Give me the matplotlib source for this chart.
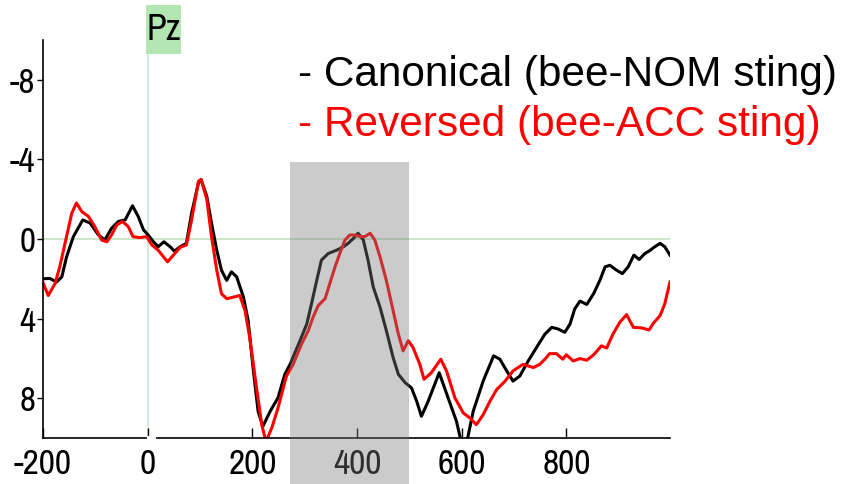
import matplotlib
matplotlib.use("Agg")
from matplotlib import pyplot as plt
from matplotlib.patches import Rectangle

plt.rcParams['axes.unicode_minus'] = False

# ERP at Pz, time in ms, amplitude in microvolts (negative plotted up)
canon_ms = [-200, -187, -174, -164, -155, -142, -124, -110, -94, -82, -69, -56, -43, -29, -18, -8,
            1, 11, 20, 31, 43, 51, 62, 74, 84, 97, 102, 113, 122, 132, 141, 151, 160, 170, 183,
            192, 202, 211, 220, 234, 249, 262, 272, 291, 304, 313, 323, 332, 345, 361, 374, 383,
            393, 402, 412, 421, 431, 444, 456, 469, 479, 492, 504, 514, 523, 536, 557, 574, 590,
            600, 609, 622, 641, 661, 673, 686, 698, 711, 727, 743, 759, 772, 784, 797, 807, 816,
            826, 839, 852, 864, 874, 883, 896, 907, 918, 929, 939, 950, 959, 969, 979, 988, 998]
canon_uv = [2.0, 1.98, 2.16, 1.9, 0.9, -0.12, -0.96, -0.8, -0.2, 0.05, -0.54, -0.88, -0.96, -1.67,
            -1.13, -0.46, -0.2, 0.14, 0.39, 0.14, 0.39, 0.61, 0.39, 0.22, -1.3, -2.82, -2.99,
            -2.14, -0.8, 0.56, 1.57, 2.08, 1.65, 1.9, 2.92, 4.1, 6.63, 8.66, 9.42, 8.66, 7.98,
            6.8, 6.3, 5.11, 4.27, 3.26, 2.08, 1.06, 0.73, 0.56, 0.39, 0.22, -0.03, -0.29, 0.05,
            1.06, 2.41, 3.43, 4.6, 5.96, 6.8, 7.22, 7.48, 8.15, 8.91, 8.15, 6.72, 7.98, 9.16,
            10.3, 10.3, 8.66, 7.14, 5.87, 6.04, 6.63, 7.14, 6.89, 6.13, 5.45, 4.78, 4.44, 4.52,
            4.69, 4.27, 3.51, 3.12, 3.29, 2.75, 2.08, 1.4, 1.32, 1.57, 1.74, 1.4, 0.81, 1.03,
            0.73, 0.59, 0.39, 0.22, 0.39, 0.81]

rev_ms = [-200, -190, -177, -168, -155, -145, -136, -126, -113, -101, -88, -78, -69, -59, -48, -37,
          -28, -15, -2, 8, 20, 38, 49, 62, 74, 84, 97, 102, 113, 122, 132, 141, 151, 164, 176,
          186, 195, 208, 218, 226, 237, 249, 265, 278, 294, 307, 316, 326, 339, 348, 358, 367,
          377, 386, 396, 406, 415, 425, 434, 444, 456, 469, 479, 488, 498, 507, 520, 528, 542,
          560, 571, 587, 603, 616, 628, 641, 654, 667, 683, 698, 717, 737, 749, 759, 768, 781,
          793, 800, 813, 826, 839, 852, 867, 877, 889, 902, 915, 928, 944, 958, 966, 979, 988, 998]
rev_uv = [2.2, 2.84, 2.24, 1.4, -0.12, -1.3, -1.81, -1.38, -1.13, -0.62, 0.05, 0.14, -0.2, -0.71,
          -0.88, -0.62, -0.12, -0.07, -0.12, 0.3, 0.56, 1.15, 0.81, 0.42, 0.3, -0.96, -2.9,
          -2.99, -2.0, -0.12, 1.57, 2.75, 3.0, 2.92, 2.84, 3.6, 4.95, 7.48, 9.33, 10.2, 9.5,
          8.49, 6.9, 6.3, 5.28, 4.6, 3.93, 3.34, 3.0, 2.24, 1.4, 0.73, 0.05, -0.2, -0.2, -0.12,
          -0.12, -0.29, 0.05, 0.9, 2.08, 3.6, 4.78, 5.62, 5.11, 5.45, 6.3, 7.05, 6.72, 6.04,
          6.63, 7.98, 8.74, 9.0, 9.33, 8.83, 8.15, 7.56, 7.14, 6.63, 6.3, 6.46, 6.3, 6.04, 5.76,
          5.76, 6.04, 5.82, 6.13, 6.01, 6.09, 5.82, 5.37, 5.48, 4.78, 4.19, 3.8, 4.44, 4.47,
          4.57, 4.24, 3.85, 3.26, 2.16]

x_ticks = [-200, 0, 200, 400, 600, 800]
y_ticks = [-8, -4, 0, 4, 8]
window = (272, 500)  # analysis window in ms
labels = ["- Canonical (bee-NOM sting)", "- Reversed (bee-ACC sting)"]
channel = "Pz"

narrow = ['Archivo Narrow', 'DejaVu Sans']
green = '#c9e9c9'

fig = plt.figure(figsize=(8.48, 4.84), dpi=100)
ax = fig.add_axes([43 / 848, 1 - 438 / 484, 627 / 848, 398 / 484])

ax.axhline(0, color=green, lw=1.4, zorder=1)
ax.plot([0, 0], [-9.4, 10], color=green, lw=1.2, zorder=1, clip_on=False)

ax.plot(canon_ms, canon_uv, color='black', lw=2.2, zorder=2)
ax.plot(rev_ms, rev_uv, color='#ff0000', lw=2.2, zorder=2.1)

# shaded window, runs down over the tick labels
ax.add_patch(Rectangle((window[0], -3.85), window[1] - window[0], 16.5,
                       facecolor='#7b7b7b', alpha=0.39, edgecolor='none',
                       zorder=5, clip_on=False))

ax.set_xlim(-200, 998)
ax.set_ylim(10, -10)
ax.set_xticks(x_ticks)
ax.set_yticks(y_ticks)
ax.set_xticklabels([str(t) for t in x_ticks], fontfamily=narrow, fontsize=25.5)
ax.set_yticklabels([str(t) for t in y_ticks], fontfamily=narrow, fontsize=25)
ax.tick_params(axis='x', direction='in', length=7, width=1, pad=7)
ax.tick_params(axis='y', direction='out', length=4.5, width=1, pad=1)

for s in ['top', 'right']:
    ax.spines[s].set_visible(False)
for s in ['left', 'bottom']:
    ax.spines[s].set_linewidth(1.2)

# break in the time axis at stimulus onset
ax.plot([2, 13], [10, 10], color='white', lw=3, zorder=6, clip_on=False)

# channel tag
fig.patches.append(Rectangle((146 / 848, 1 - 54 / 484), 35 / 848, 49 / 484,
                             transform=fig.transFigure, facecolor='#b3e6b3',
                             edgecolor='none'))
fig.text(163.5 / 848, 1 - 30 / 484, channel, ha='center', va='center',
         fontsize=26, fontweight='bold', fontfamily=narrow)

fig.text(298 / 848, 1 - 75 / 484, labels[0], color='black', fontsize=30.5,
         fontfamily='Liberation Sans', va='center', ha='left')
fig.text(298 / 848, 1 - 125 / 484, labels[1], color='#ff0000', fontsize=30.5,
         fontfamily='Liberation Sans', va='center', ha='left')

plt.savefig("out.png", dpi=100)
